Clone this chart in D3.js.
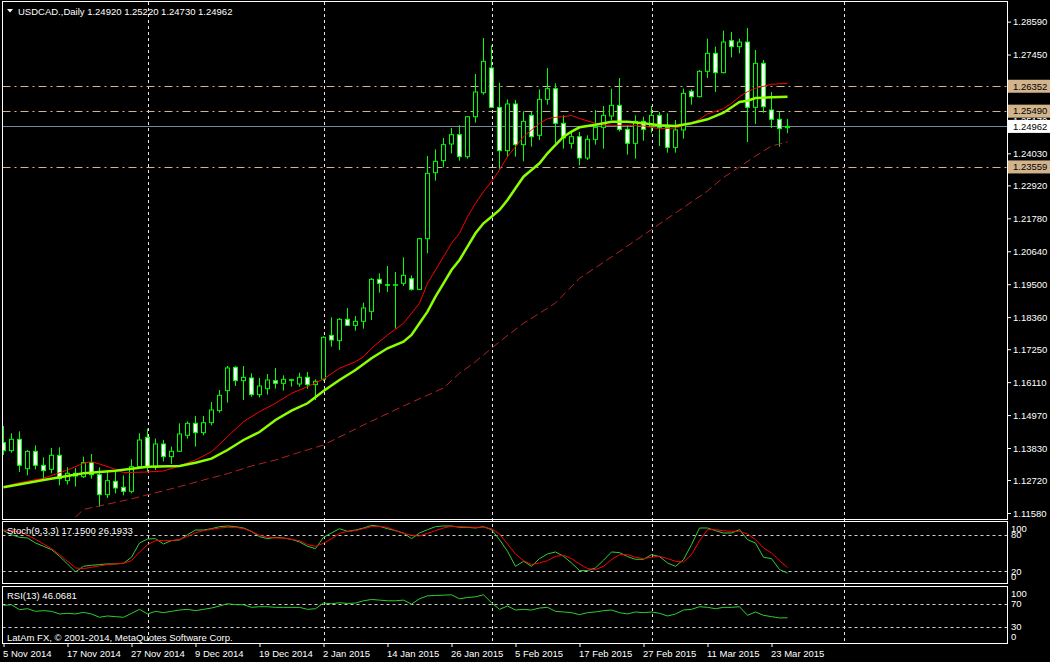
<!DOCTYPE html>
<html><head><meta charset="utf-8">
<script src="https://cdn.jsdelivr.net/npm/d3@7"></script>
<style>html,body{margin:0;padding:0;background:#000;overflow:hidden}svg{display:block}</style>
</head><body><svg id="c" width="1050" height="662"></svg>
<script>
// ---------- DATA ----------
const openP=[1.14015,1.13738,1.14131,1.13115,1.13715,1.13231,1.13092,1.13577,1.12700,1.12954,
1.12838,1.13323,1.12907,1.12215,1.12677,1.12469,1.12331,1.13184,1.14200,1.13161,
1.13969,1.13531,1.13715,1.14269,1.14684,1.14361,1.14707,1.15123,1.15815,1.16623,
1.16161,1.16254,1.15677,1.15884,1.16161,1.16069,1.16172,1.16046,1.16277,1.16023,
1.16207,1.17730,1.17546,1.18284,1.18076,1.18215,1.18561,1.19669,1.19484,1.19473,
1.19530,1.19692,1.19322,1.21076,1.23361,1.23776,1.24353,1.24676,1.23915,1.25299,
1.26130,1.26984,1.25622,1.24122,1.25738,1.24330,1.25345,1.24653,1.25899,1.26268,
1.25068,1.24376,1.24607,1.23868,1.24514,1.24930,1.25322,1.25691,1.24861,1.24376,
1.25137,1.24976,1.25345,1.24930,1.24237,1.24838,1.26176,1.25991,1.26868,1.27491,
1.26822,1.27930,1.27722,1.27883,1.25622,1.27145,1.25530,1.25207,1.24920];
const highP=[1.14592,1.14338,1.14407,1.13761,1.13923,1.13507,1.13831,1.13854,1.13161,1.13138,
1.13531,1.13623,1.13161,1.13000,1.13000,1.12884,1.13438,1.14338,1.14500,1.14154,
1.14107,1.13877,1.14684,1.14754,1.14938,1.14938,1.15423,1.15838,1.16669,1.16660,
1.16669,1.16415,1.16254,1.16392,1.16600,1.16346,1.16230,1.16438,1.16461,1.16207,
1.17700,1.18353,1.18330,1.18676,1.18399,1.18861,1.19715,1.19876,1.20130,1.19922,
1.20430,1.19807,1.21100,1.23938,1.24168,1.24561,1.24907,1.24999,1.25322,1.26776,
1.28022,1.27768,1.26476,1.25899,1.25876,1.25484,1.25461,1.26245,1.26984,1.26453,
1.25345,1.24792,1.24768,1.24653,1.25530,1.25668,1.26268,1.26637,1.24999,1.25345,
1.25299,1.25668,1.25461,1.25415,1.25184,1.26268,1.26245,1.26914,1.27999,1.27722,
1.28276,1.28230,1.27999,1.28368,1.27607,1.27260,1.26153,1.25484,1.25220];
const lowP=[1.13588,1.13669,1.13000,1.12884,1.13092,1.12723,1.12954,1.12538,1.12561,1.12492,
1.12792,1.12769,1.11800,1.12100,1.12261,1.12192,1.12261,1.13115,1.13000,1.13069,
1.13369,1.13277,1.13692,1.14154,1.13877,1.14269,1.14615,1.15054,1.15400,1.15977,
1.15492,1.15607,1.15584,1.15677,1.15884,1.15815,1.15954,1.15954,1.15884,1.15492,
1.16150,1.17338,1.17223,1.18053,1.17892,1.17961,1.18261,1.19207,1.19230,1.17961,
1.19438,1.19276,1.19300,1.20569,1.23084,1.23545,1.24030,1.23776,1.23845,1.25091,
1.26061,1.25600,1.23499,1.23915,1.23915,1.23753,1.24261,1.24492,1.25715,1.24376,
1.24192,1.24192,1.23614,1.23799,1.24330,1.24191,1.25184,1.24791,1.23984,1.23845,
1.24468,1.24745,1.24284,1.24053,1.24053,1.24537,1.25714,1.25968,1.26637,1.26153,
1.26800,1.27353,1.27491,1.24422,1.25045,1.25437,1.24907,1.24261,1.24730];
const closeP=[1.13738,1.14131,1.13231,1.13715,1.13231,1.13046,1.13577,1.12769,1.12954,1.12861,
1.13323,1.12907,1.12215,1.12700,1.12446,1.12331,1.13184,1.14107,1.13161,1.13969,
1.13531,1.13715,1.14315,1.14684,1.14361,1.14707,1.15146,1.15654,1.16600,1.16161,
1.16277,1.15677,1.15977,1.16184,1.16069,1.16207,1.16196,1.16277,1.16023,1.16138,
1.17661,1.17569,1.18284,1.18076,1.18215,1.18676,1.19669,1.19530,1.19473,1.19484,
1.19807,1.19322,1.21076,1.23338,1.23753,1.24330,1.24676,1.23915,1.25299,1.26153,
1.27214,1.25622,1.24122,1.25738,1.24330,1.25138,1.24607,1.25899,1.26268,1.25068,
1.24561,1.24607,1.23868,1.24514,1.24930,1.25345,1.25691,1.24861,1.24376,1.25137,
1.24861,1.25345,1.24930,1.24237,1.24838,1.26107,1.25991,1.26868,1.27491,1.26822,
1.27883,1.27722,1.27883,1.25622,1.27145,1.25645,1.25207,1.24884,1.24962];

// moving averages: [bar index, price]
const maLime=[[0,1.12470],[5,1.12723],[10,1.12955],[14,1.13045],[18,1.13183],[22,1.13207],[24,1.13322],[26,1.13460],[28,1.13761],[30,1.14107],[32,1.14384],[34,1.14800],[36,1.15121],[38,1.15378],[40,1.15803],[42,1.16184],[44,1.16530],[46,1.16935],[48,1.17281],[50,1.17510],[51,1.17742],[52,1.18147],[53,1.18548],[54,1.19068],[55,1.19531],[56,1.19992],[57,1.20338],[58,1.20798],[59,1.21262],[60,1.21608],[61,1.21837],[62,1.22069],[63,1.22415],[64,1.22820],[65,1.23221],[66,1.23453],[67,1.23685],[68,1.24031],[69,1.24319],[70,1.24606],[71,1.24779],[72,1.24931],[74,1.25021],[76,1.25125],[78,1.25125],[80,1.25070],[82,1.25000],[84,1.24976],[86,1.25070],[88,1.25208],[90,1.25437],[92,1.25807],[93,1.25852],[94,1.25945],[96,1.25970],[98,1.25990]];
const maRed=[[0,1.12491],[2,1.12629],[5,1.12782],[8,1.13069],[10,1.13301],[11,1.13356],[12,1.13277],[14,1.13093],[15,1.12976],[18,1.13000],[20,1.13034],[22,1.13207],[24,1.13415],[26,1.13702],[28,1.14222],[30,1.14741],[32,1.15087],[34,1.15378],[36,1.15724],[38,1.15952],[40,1.16219],[42,1.16589],[44,1.16818],[45,1.16991],[46,1.17281],[48,1.17742],[50,1.18147],[51,1.18493],[52,1.18839],[53,1.19531],[54,1.19992],[55,1.20452],[56,1.20916],[57,1.21262],[58,1.21837],[59,1.22301],[60,1.22702],[61,1.23048],[62,1.23453],[63,1.23914],[64,1.24260],[65,1.24606],[66,1.24838],[67,1.25070],[68,1.25229],[69,1.25277],[70,1.25298],[71,1.25340],[72,1.25236],[74,1.25070],[75,1.25000],[76,1.25000],[78,1.25000],[80,1.24976],[82,1.24883],[84,1.24907],[86,1.25070],[87,1.25208],[88,1.25392],[90,1.25575],[91,1.25762],[92,1.25990],[93,1.26164],[94,1.26281],[96,1.26420],[98,1.26454]];
const maSlow=[[9,1.11442],[10,1.11702],[16,1.12069],[22,1.12491],[25,1.12723],[28,1.12941],[31,1.13207],[34,1.13415],[37,1.13682],[40,1.13934],[45,1.14627],[50,1.15284],[55,1.15907],[57,1.16416],[59,1.16818],[62,1.17510],[65,1.18147],[67,1.18493],[69,1.18850],[72,1.19704],[76,1.20442],[80,1.21203],[84,1.21965],[88,1.22726],[90,1.23194],[92,1.23557],[94,1.23938],[96,1.24284],[98,1.24422]];

const stochK=[86.6,80,75.7,74.6,66.4,61,55.5,44.6,32.1,19,
28.2,29.9,31,32.1,32.1,33.2,43,66.4,73,73.5,
64.8,70.3,71.3,80,87.7,87.7,89.9,93.2,94.3,93.2,
91,85.5,76.8,73.5,75.7,74.6,72.4,68.1,61,57.2,
75.7,82.8,89.9,85.5,87.7,91,95.3,93.7,89.9,86.6,
82.8,73.5,82.8,88.3,93.2,94.3,94.3,92.1,92.1,91,
93.2,88.3,71.9,52.8,28.2,36.4,28.2,40.8,48.4,51.7,
44.6,33.7,21.2,21.2,25.5,38.1,51.7,50.6,44.1,39.7,
39.7,47.3,44.1,33.7,28.2,39.2,63.7,91,91,86.6,
82.8,82.8,88.3,71.9,66.4,43,40.8,22.8,17.15];
const stochD=[87.7,86.6,84.4,79,72.4,64.8,57.2,47.3,36.4,25.5,
24.4,26.6,28.8,31,32.1,33.2,37.5,51.7,63.7,70.3,
70.3,70.3,72.4,76.8,83.3,86.6,88.8,91,92.1,92.1,
89.9,85.5,79,75.7,74.6,74.6,72.4,70.3,63.7,61,
65.9,73.5,82.3,85.5,86.6,89.9,93.2,93.7,92.1,86.6,
82.3,79,77.9,82.3,86.6,91,93.7,93.2,92.6,92.1,
92.1,89.9,81.2,64.8,48.4,37.5,31,33.7,37.5,44.6,
46.3,40.8,32.1,24.4,22.8,28.2,39.2,47.3,47.3,43,
40.8,43,44.6,40.8,36.4,35.3,47.3,70,88.3,88.3,
86.6,85.5,85.5,81.2,71.9,58.3,50.1,37.5,26.19];
const rsiV=[67.7,68.9,60.2,61.9,57.3,58.5,57.3,52.7,53.8,52.7,
55.5,52.7,46.9,49.2,48,46.9,53.8,60.8,52.7,57.3,
55,57.3,59.6,60.8,58.5,60.8,63.1,66.6,70.6,68.9,
68.9,64.3,65.4,65.4,64.3,64.3,64.3,64.3,60.8,61.9,
71.8,70.6,72.4,71.2,71.8,75.8,78.1,77,75.8,75.8,
77,70,79.3,84.5,85.1,85.7,86.3,79.3,81.6,82.8,
86.3,72.4,60.8,66.6,59.6,60.8,59.6,63.1,64.3,57.3,
56.2,55,51.5,55,56.2,58.5,59.6,55,52.7,56.2,
55,56.2,53.8,49.2,52.7,59.6,60.8,65.4,64.3,61.9,
64.3,64.3,65.4,50.3,56.2,50.3,48,45.7,46.07];

const priceTicks=[1.28590,1.27450,1.26310,1.25170,1.24030,1.22920,1.21780,1.20640,1.19500,1.18360,1.17250,1.16110,1.14970,1.13830,1.12720,1.11580];
const hLevels=[1.26352,1.25490,1.23559];
const lastPrice=1.24962;
const dateTickIdx=[0,8,16,24,32,40,48,56,64,72,80,88,96];
const dateTickLabels=["5 Nov 2014","17 Nov 2014","27 Nov 2014","9 Dec 2014","19 Dec 2014","2 Jan 2015","14 Jan 2015","26 Jan 2015","5 Feb 2015","17 Feb 2015","27 Feb 2015","11 Mar 2015","23 Mar 2015"];
const gridIdx=[18,40,61,81,105];
const stochLevels=[80,20], stochAxis=[100,80,20,0];
const rsiLevels=[70,30], rsiAxis=[100,70,30,0];
const headerText="USDCAD.,Daily  1.24920 1.25220 1.24730 1.24962";
const stochText="Stoch(9,3,3) 17.1500 26.1933";
const rsiText="RSI(13) 46.0681";
const copyText="LatAm FX, \u00a9 2001-2014, MetaQuotes Software Corp.";

// ---------- LAYOUT ----------
const FONT="Tahoma, 'Liberation Sans', Arial, sans-serif";
const FS='9.5px';
const L=2.5, R=1007.5;
const P={main:[1.5,519.5], stoch:[521.5,583.5], rsi:[586.5,643.5]};
const svg=d3.select('#c');
svg.append('rect').attr('width',1050).attr('height',662).attr('fill','#000');

const x=d3.scaleLinear().domain([0,1]).range([3.5,11.5]);
const y=d3.scaleLinear().domain([1.11580,1.28590]).range([513.0,21.6]);
const yS=d3.scaleLinear().domain([0,100]).range([583.5,522.5]);
const yR=d3.scaleLinear().domain([0,100]).range([644,587]);

const defs=svg.append('defs');
defs.append('clipPath').attr('id','cm').append('rect').attr('x',3).attr('y',2).attr('width',1004).attr('height',517);
defs.append('clipPath').attr('id','cs').append('rect').attr('x',3).attr('y',522).attr('width',1004).attr('height',61);
defs.append('clipPath').attr('id','cr').append('rect').attr('x',3).attr('y',587).attr('width',1004).attr('height',56);

// vertical grid
const grid=svg.append('g');
gridIdx.forEach(i=>{
  grid.append('line').attr('x1',Math.round(x(i))+0.5).attr('x2',Math.round(x(i))+0.5)
   .attr('y1',2).attr('y2',643).attr('stroke','#e8e8e8').attr('stroke-dasharray','3,3');
});

// main panel
const gm=svg.append('g').attr('clip-path','url(#cm)');
hLevels.forEach(p=>{
  gm.append('line').attr('x1',L).attr('x2',R).attr('y1',Math.round(y(p))+0.5).attr('y2',Math.round(y(p))+0.5)
    .attr('stroke','#d2b48c').attr('stroke-dasharray','8,4,2,4');
});
gm.append('line').attr('x1',L).attr('x2',R).attr('y1',Math.round(y(lastPrice))+0.5).attr('y2',Math.round(y(lastPrice))+0.5)
  .attr('stroke','#778899');

const idx=d3.range(openP.length);
gm.selectAll('line.w').data(idx).join('line').attr('class','w')
  .attr('x1',i=>x(i)).attr('x2',i=>x(i)).attr('y1',i=>y(highP[i])).attr('y2',i=>y(lowP[i]))
  .attr('stroke','#00ff00').attr('stroke-width',1);
gm.selectAll('rect.b').data(idx).join('rect').attr('class','b')
  .attr('x',i=>x(i)-2).attr('width',4)
  .attr('y',i=>y(Math.max(openP[i],closeP[i])))
  .attr('height',i=>Math.max(Math.abs(y(openP[i])-y(closeP[i])),0.6))
  .attr('fill',i=>closeP[i]>openP[i]?'#000':'#fff')
  .attr('stroke','#00ff00').attr('stroke-width',1);

const lineP=d3.line().x(d=>x(d[0])).y(d=>y(d[1]));
gm.append('path').attr('d',lineP(maSlow)).attr('fill','none').attr('stroke','#b22222').attr('stroke-width',1).attr('stroke-dasharray','8,4');
gm.append('path').attr('d',lineP(maRed)).attr('fill','none').attr('stroke','#ff0000').attr('stroke-width',1);
gm.append('path').attr('d',lineP(maLime)).attr('fill','none').attr('stroke','#8cff00').attr('stroke-width',2.5);

// stochastic panel
const gs=svg.append('g').attr('clip-path','url(#cs)');
stochLevels.forEach(v=>gs.append('line').attr('x1',L).attr('x2',R).attr('y1',Math.round(yS(v))+0.5).attr('y2',Math.round(yS(v))+0.5)
  .attr('stroke','#d0d0d0').attr('stroke-dasharray','3,3'));
const lineS=d3.line().x((d,i)=>x(i)).y(d=>yS(d));
gs.append('path').attr('d',lineS(stochK)).attr('fill','none').attr('stroke','#32cd32').attr('stroke-width',1);
gs.append('path').attr('d',lineS(stochD)).attr('fill','none').attr('stroke','#ff0000').attr('stroke-width',1);

// RSI panel
const gr=svg.append('g').attr('clip-path','url(#cr)');
rsiLevels.forEach(v=>gr.append('line').attr('x1',L).attr('x2',R).attr('y1',Math.round(yR(v))+0.5).attr('y2',Math.round(yR(v))+0.5)
  .attr('stroke','#d0d0d0').attr('stroke-dasharray','3,3'));
const lineR=d3.line().x((d,i)=>x(i)).y(d=>yR(d));
gr.append('path').attr('d',lineR(rsiV)).attr('fill','none').attr('stroke','#32cd32').attr('stroke-width',1);

// frames
Object.values(P).forEach(([t,b])=>{
  svg.append('rect').attr('x',L).attr('y',t).attr('width',R-L).attr('height',b-t)
    .attr('fill','none').attr('stroke','#fff').attr('stroke-width',1);
});

// price axis
const ax=svg.append('g').attr('transform','translate(1007,0)')
  .call(d3.axisRight(y).tickValues(priceTicks).tickFormat(d3.format('.5f')).tickSize(4).tickPadding(2));
ax.select('.domain').remove();
ax.selectAll('line').attr('stroke','#fff');
ax.selectAll('text').attr('fill','#fff').style('font-family',FONT).style('font-size',FS);

// level labels
function tag(p,bg){
  const yy=y(p);
  svg.append('rect').attr('x',1008).attr('y',yy-6.5).attr('width',42).attr('height',13).attr('fill',bg);
  svg.append('text').attr('x',1013).attr('y',yy).attr('dy','0.35em').attr('fill','#000')
    .style('font-family',FONT).style('font-size',FS).text(d3.format('.5f')(p));
}
hLevels.forEach(p=>tag(p,'#d2b48c'));
tag(lastPrice,'#ffffff');

// oscillator axis labels
function oscLabels(scale,vals,top,bot){
  vals.forEach(v=>{
    const yy=Math.min(Math.max(scale(v),top+7),bot-7);
    svg.append('text').attr('x',1011).attr('y',yy).attr('dy','0.35em').attr('fill','#fff')
      .style('font-family',FONT).style('font-size',FS).text(v);
  });
}
oscLabels(yS,stochAxis,P.stoch[0],P.stoch[1]);
oscLabels(yR,rsiAxis,P.rsi[0],P.rsi[1]);

// date axis
const dx=svg.append('g').attr('transform','translate(0,643)')
  .call(d3.axisBottom(x).tickValues(dateTickIdx).tickFormat((d,i)=>dateTickLabels[i]).tickSize(4).tickPadding(3));
dx.select('.domain').remove();
dx.selectAll('line').attr('stroke','#fff');
dx.selectAll('text').attr('fill','#fff').attr('text-anchor','start').attr('x',-1)
  .style('font-family',FONT).style('font-size',FS);

// texts
svg.append('path').attr('d','M7,9 L13,9 L10,12.5 Z').attr('fill','#fff');
function txt(s,xx,yy){svg.append('text').attr('x',xx).attr('y',yy).attr('fill','#fff')
  .style('font-family',FONT).style('font-size',FS).text(s);}
txt(headerText,18,14.5);
txt(stochText,7,534);
txt(rsiText,7,599);
txt(copyText,7,640.5);
</script></body></html>
